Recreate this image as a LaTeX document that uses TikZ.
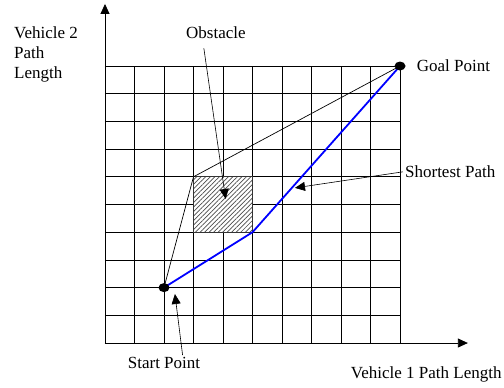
\documentclass[tikz,border=0pt]{standalone}
\usepackage{fontspec}
\setmainfont{Liberation Serif}
\usetikzlibrary{positioning,arrows.meta,calc,backgrounds,patterns.meta,shapes.geometric}
\definecolor{pathblue}{HTML}{0000FF}
\tikzset{
  lbl/.style    ={font=\fontsize{17}{20}\selectfont, inner sep=2pt},
  dot/.style    ={ellipse, fill=black, inner sep=0pt, minimum width=11pt,
                  minimum height=9pt},
  cell/.style   ={line width=0.8pt},
  axis/.style   ={line width=0.8pt, -{Triangle[length=10pt,width=9pt]}},
  callout/.style={line width=0.6pt, -{Triangle[length=10pt,width=9pt]}},
  % the two candidate routes from start to goal
  route/.style  ={line width=0.7pt},
  shortest/.style={draw=pathblue, line width=1.8pt},
  block/.style  ={pattern={Lines[angle=45,distance=3.2pt,line width=0.7pt]},
                  pattern color=gray!60!black},
}
\begin{document}
\begin{tikzpicture}[x=29.5pt,y=27.7pt]
\useasboundingbox (-3.559,-1.588) rectangle (13.525,12.383);
\node[dot] (start) at (2,2) {};
\node[dot] (goal) at (10,10) {};
\coordinate (obstnw) at (3,6);
\coordinate (turn) at (5,4);
\begin{scope}[on background layer]
  \draw[cell, step=1] (0,0) grid (10,10);
  \fill[white] (3,4) rectangle (5,6);
  \fill[block] (3,4) rectangle (5,6);
  \draw[gray!40!black, line width=0.8pt] (3,4) rectangle (5,6);
  \draw[axis] (0,0) -- (12.3,0);
  \draw[axis] (0,0) -- (0,12.24);
  \draw[route] (start.center) -- (obstnw) -- (goal.center);
  \draw[shortest, line join=round] (start.center) -- (turn) -- (goal.center);
\end{scope}
% --- labels ---
\node[lbl, anchor=west, align=left] (v2lab) at (-3.153,10.4)
   {Vehicle 2\\Path\\Length};
\node[lbl] (obstlab) at (3.76,11.19) {Obstacle};
\node[lbl, right=9pt of goal] (goallab) {Goal Point};
\node[lbl, anchor=west] (shortlab) at (10.10,6.18) {Shortest Path};
\node[lbl] (startlab) at (2,-0.72) {Start Point};
\node[lbl, anchor=west, inner sep=0pt] (v1lab) at (8.33,-1.12) {Vehicle 1 Path Length};
% --- pointers ---
\coordinate (obsttip) at (4.09,5.2);
\coordinate (shorttip) at (6.44,5.6);
\coordinate (starttip) at (2.37,1.77);
\draw[callout] ($(obstlab.south)+(-0.41,-0.25)$) -- (obsttip);
\draw[callout] (shortlab.west) -- (shorttip);
\draw[callout] ($(startlab.north)+(0.63,0)$) -- (starttip);
\end{tikzpicture}
\end{document}
